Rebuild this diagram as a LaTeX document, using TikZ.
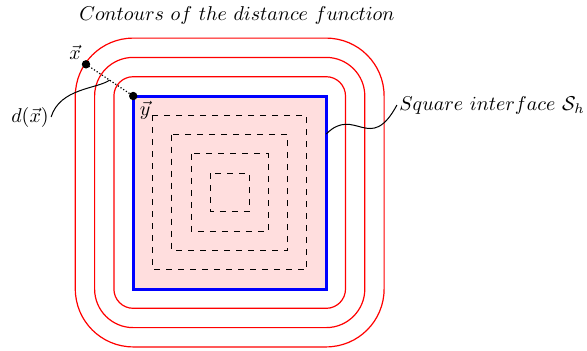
\documentclass[tikz,border=0pt]{standalone}
\usetikzlibrary{calc}
\begin{document}
\begin{tikzpicture}[x=0.5pt,y=-0.5pt,
  contour/.style={red, line width=0.6pt},
  iface/.style={blue, line width=1.5pt},
  level/.style={dashed, line width=0.45pt},
  pointdot/.style={circle, fill=black, inner sep=0pt, minimum size=4.2pt},
  lbl/.style={inner sep=1pt},
  leader/.style={line width=0.5pt}]
\useasboundingbox (0,0) rectangle (587,350);
\def\cx{229.7}
\def\cy{192.5}
\def\hs{96.5}
\def\u{19.3}
% filled square
\fill[red!13] (\cx-\hs,\cy-\hs) rectangle (\cx+\hs,\cy+\hs);
% inner dashed contours
\foreach \k in {1,2,3,4}{
  \pgfmathsetmacro\h{\hs-\k*\u}
  \draw[level] (\cx-\h,\cy-\h) rectangle (\cx+\h,\cy+\h);
}
% interface
\draw[iface] (\cx-\hs,\cy-\hs) rectangle (\cx+\hs,\cy+\hs);
% outer contours
\foreach \k in {1,2,3}{
  \pgfmathsetmacro\h{\hs+\k*\u}
  \pgfmathsetmacro\r{\k*\u*0.5}
  \draw[contour, rounded corners=\r pt] (\cx-\h,\cy-\h) rectangle (\cx+\h,\cy+\h);
}
% points
\node[pointdot] (x) at (86,64.3) {};
\node[pointdot] (y) at (\cx-\hs,\cy-\hs) {};
\draw[densely dotted, line width=0.6pt] (x.center) -- (y.center);
\coordinate (m) at ($(x.center)!0.5!(y.center)$);
\node[lbl] (xl) at (75,52) {$\vec{x}$};
\node[lbl] (yl) at (145,110) {$\vec{y}$};
\node[lbl] (dl) at (30,117) {$d(\vec{x})$};
\draw[leader] (dl.east) .. controls (60,88) and (97,89) .. (m);
% title
\node[lbl] (title) at (237,15) {$Contours\ of\ the\ distance\ function$};
% interface label
\coordinate (sqp) at (\cx+\hs,134);
\node[lbl, anchor=east] (sl) at (587,105) {$Square\ interface\ \mathcal{S}_h$};
\draw[leader] (sqp) .. controls (355,105) and (370,155) .. (sl.west);
\end{tikzpicture}
\end{document}
